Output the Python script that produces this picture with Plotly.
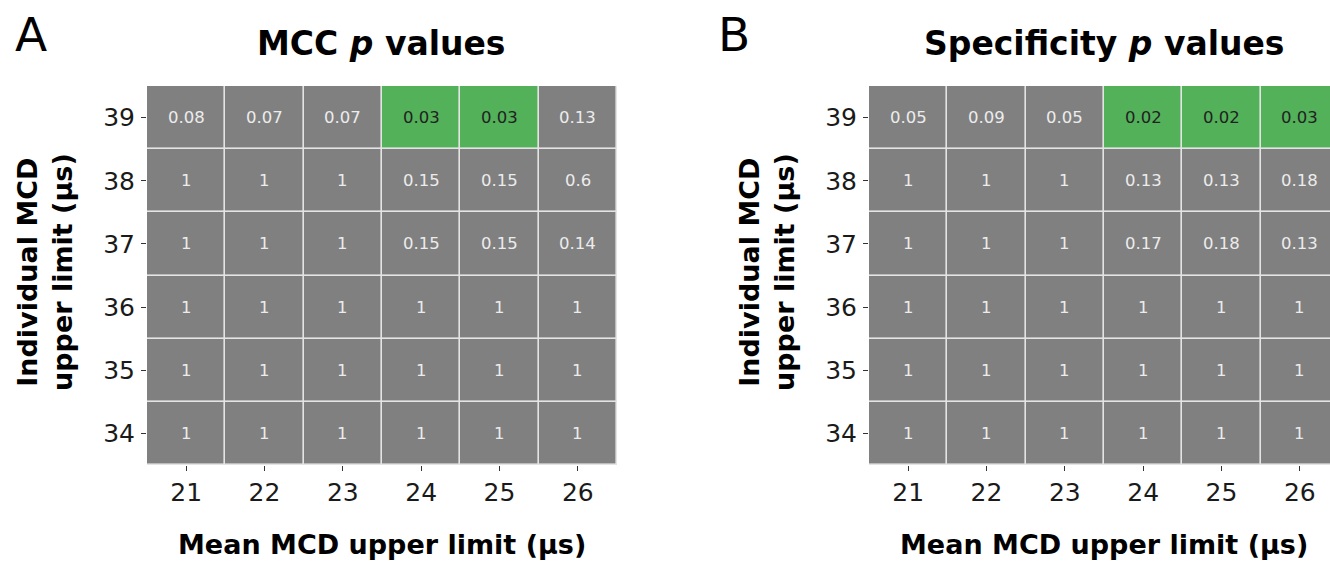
import plotly.graph_objects as go

# Grid axes (µs)
mean_limits = [21, 22, 23, 24, 25, 26]
individual_limits = [34, 35, 36, 37, 38, 39]

# p values, rows ordered by individual limit 34 -> 39, columns by mean limit 21 -> 26
mcc_p = [
    [1, 1, 1, 1, 1, 1],
    [1, 1, 1, 1, 1, 1],
    [1, 1, 1, 1, 1, 1],
    [1, 1, 1, 0.15, 0.15, 0.14],
    [1, 1, 1, 0.15, 0.15, 0.6],
    [0.08, 0.07, 0.07, 0.03, 0.03, 0.13],
]
specificity_p = [
    [1, 1, 1, 1, 1, 1],
    [1, 1, 1, 1, 1, 1],
    [1, 1, 1, 1, 1, 1],
    [1, 1, 1, 0.17, 0.18, 0.13],
    [1, 1, 1, 0.13, 0.13, 0.18],
    [0.05, 0.09, 0.05, 0.02, 0.02, 0.03],
]
alpha = 0.05

W, H = 1330, 561
GRAY = "#808080"
GREEN = "#53b15a"
FONT = "DejaVu Sans"

# pixel geometry of the two panels
A_left, A_right = 147, 617
B_left = 869
cell_w = (A_right - A_left) / 6
plot_top, plot_bottom = 86, 465


def px(x):
    return x / W


def py(y):
    return 1 - y / H


fig = go.Figure()
annotations = []

panels = [
    ("x", "y", mcc_p, "MCC", A_left),
    ("x2", "y2", specificity_p, "Specificity", B_left),
]

for xa, ya, pvals, name, left in panels:
    sig = [[1 if v < alpha else 0 for v in row] for row in pvals]
    fig.add_trace(go.Heatmap(
        x=mean_limits, y=individual_limits, z=sig,
        colorscale=[[0, GRAY], [1, GREEN]], zmin=0, zmax=1,
        showscale=False, xgap=1.6, ygap=1.6, hoverinfo="skip",
        xaxis=xa, yaxis=ya,
    ))
    for i, yv in enumerate(individual_limits):
        for j, xv in enumerate(mean_limits):
            v = pvals[i][j]
            annotations.append(dict(
                x=xv, y=yv, xref=xa, yref=ya, text=f"{v:g}", showarrow=False,
                font=dict(family=FONT, size=16.5,
                          color="#222222" if v < alpha else "#ececec"),
            ))
    offset = left - A_left
    # panel title
    annotations.append(dict(
        x=px(382 + offset), y=py(43), xref="paper", yref="paper",
        text=f"<b>{name} <i>p</i> values</b>", showarrow=False,
        xanchor="center", yanchor="middle",
        font=dict(family=FONT, size=33, color="black"),
    ))
    # x axis title
    annotations.append(dict(
        x=px(382 + offset), y=py(544), xref="paper", yref="paper",
        text="<b>Mean MCD upper limit (μs)</b>", showarrow=False,
        xanchor="center", yanchor="middle",
        font=dict(family=FONT, size=27, color="black"),
    ))
    # y axis title
    annotations.append(dict(
        x=px(45 + offset), y=py(272), xref="paper", yref="paper",
        text="<b>Individual MCD<br>upper limit (μs)</b>", showarrow=False,
        textangle=-90, xanchor="center", yanchor="middle",
        font=dict(family=FONT, size=27, color="black"),
    ))

# panel letters
annotations.append(dict(x=px(13), y=py(35), xref="paper", yref="paper", text="A",
                        showarrow=False, xanchor="left", yanchor="middle",
                        font=dict(family=FONT, size=47, color="black")))
annotations.append(dict(x=px(716), y=py(35), xref="paper", yref="paper", text="B",
                        showarrow=False, xanchor="left", yanchor="middle",
                        font=dict(family=FONT, size=47, color="black")))

axis_common = dict(
    showgrid=False, zeroline=False, showline=False,
    ticks="outside", ticklen=5, tickwidth=1.2, tickcolor="#333333",
    tickfont=dict(family=FONT, size=25, color="#1a1a1a"),
)

fig.update_layout(
    width=W, height=H,
    margin=dict(l=0, r=0, t=0, b=0),
    paper_bgcolor="white", plot_bgcolor="#e4e4e4",
    showlegend=False,
    annotations=annotations,
    xaxis=dict(domain=[px(A_left), px(A_right)], range=[20.5, 26.5],
               tickvals=mean_limits, anchor="y", **axis_common),
    yaxis=dict(domain=[py(plot_bottom), py(plot_top)], range=[33.5, 39.5],
               tickvals=individual_limits, anchor="x", ticklabelstandoff=1,
               **axis_common),
    xaxis2=dict(domain=[px(B_left), 1.0],
                range=[20.5, 20.5 + (W - B_left) / cell_w],
                tickvals=mean_limits, anchor="y2", **axis_common),
    yaxis2=dict(domain=[py(plot_bottom), py(plot_top)], range=[33.5, 39.5],
                tickvals=individual_limits, anchor="x2", ticklabelstandoff=1,
                **axis_common),
)

fig.write_html("out.html")
